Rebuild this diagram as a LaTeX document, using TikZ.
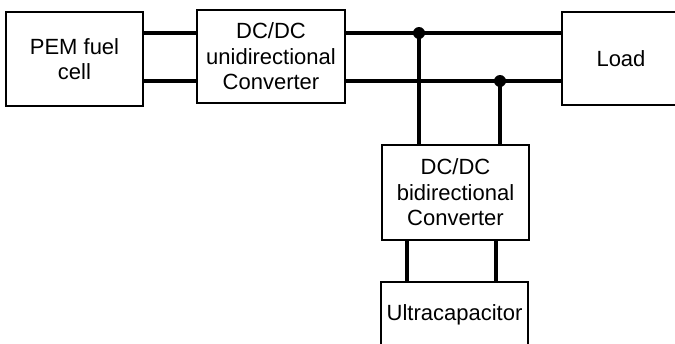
\documentclass[tikz,border=0pt]{standalone}
\usepackage{fontspec}
\setmainfont{Liberation Sans}
\begin{document}
\begin{tikzpicture}[x=1pt,y=-1pt,
  blk/.style={draw, line width=2.4pt, inner sep=0pt, align=center,
    font=\fontsize{22}{25.5}\selectfont},
  wire/.style={line width=4.6pt},
  jdot/.style={circle, fill=black, inner sep=0pt, minimum size=12pt}]
\useasboundingbox (0,0) rectangle (675,343);
\node[blk, minimum width=137pt, minimum height=94pt] (pem) at (74.5,59) {PEM fuel\\cell};
\node[blk, minimum width=148pt, minimum height=93pt] (uni) at (271,56.5) {DC/DC\\unidirectional\\Converter};
\node[blk, minimum width=118pt, minimum height=93pt] (load) at (621,58.5) {Load};
\node[blk, minimum width=147pt, minimum height=95pt] (bid) at (455.5,192.5) {DC/DC\\bidirectional\\Converter};
\node[blk, minimum width=147pt, minimum height=66pt] (ultra) at (454.5,315) {Ultracapacitor};
\coordinate (top) at (0,33);
\coordinate (bot) at (0,81);
\node[jdot] (j1) at (419,33) {};
\node[jdot] (j2) at (500,81) {};
\draw[wire] (pem.east |- top) -- (uni.west |- top);
\draw[wire] (pem.east |- bot) -- (uni.west |- bot);
\draw[wire] (uni.east |- top) -- (load.west |- top);
\draw[wire] (uni.east |- bot) -- (load.west |- bot);
\draw[wire] (j1.center) -- (j1.center |- bid.north);
\draw[wire] (j2.center) -- (j2.center |- bid.north);
\coordinate (l1) at (407,0);
\coordinate (l2) at (496,0);
\draw[wire] (l1 |- bid.south) -- (l1 |- ultra.north);
\draw[wire] (l2 |- bid.south) -- (l2 |- ultra.north);
\end{tikzpicture}
\end{document}
